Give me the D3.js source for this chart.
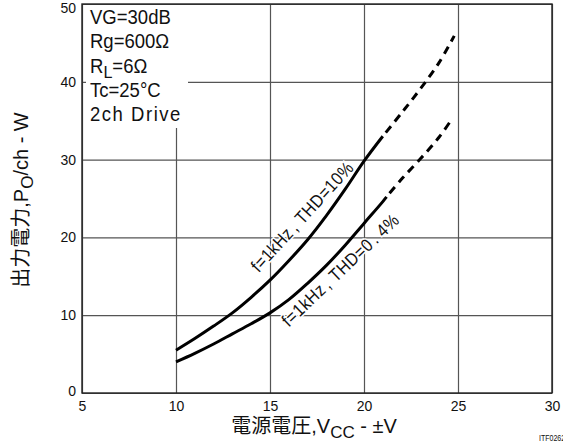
<!DOCTYPE html>
<html>
<head>
<meta charset="utf-8">
<script src="https://cdn.jsdelivr.net/npm/d3@7"></script>
<style>
  html, body { margin: 0; padding: 0; background: #fff; }
  svg { display: block; }
  .latin { font-family: "Liberation Sans", Arial, sans-serif; }
  .cjk { font-family: "Noto Sans CJK JP", "Noto Sans CJK SC", sans-serif; }
</style>
</head>
<body>
<svg id="chart" width="563" height="444"></svg>
<script>
// Axis ticks
const vccTicks = [5, 10, 15, 20, 25, 30];
const poTicks = [0, 10, 20, 30, 40, 50];

// Output power per channel (W) vs supply voltage (±V)
// THD = 10 %: measured part (solid) and extrapolated part (dashed)
const vccThd10 = [10, 11, 12, 13, 14, 15, 16, 17, 18, 19, 20, 21];
const poThd10 = [5.5, 7.0, 8.6, 10.3, 12.3, 14.5, 17.0, 19.7, 22.8, 26.2, 29.8, 33.0];
const vccThd10Ext = [21, 22, 23, 24, 24.8];
const poThd10Ext = [33.0, 36.0, 39.1, 42.5, 45.9];

// THD = 0.4 %
const vccThd04 = [10, 11, 12, 13, 14, 15, 16, 17, 18, 19, 20, 21, 21.2];
const poThd04 = [4.0, 5.1, 6.3, 7.6, 8.9, 10.3, 12.0, 14.1, 16.4, 19.0, 21.8, 24.6, 25.2];
const vccThd04Ext = [21.2, 22, 23, 24, 24.7];
const poThd04Ext = [25.2, 27.5, 30.1, 32.9, 35.3];

// Test conditions
const conditions = ["VG=30dB", "Rg=600Ω", "RL=6Ω", "Tc=25°C", "2ch Drive"];

const svg = d3.select("#chart");
const W = 563, H = 444;
const m = { left: 82, top: 4, right: 11, bottom: 51 };
const w = W - m.left - m.right, h = H - m.top - m.bottom;

const x = d3.scaleLinear().domain([5, 30]).range([m.left, m.left + w]);
const y = d3.scaleLinear().domain([0, 50]).range([m.top + h, m.top]);

const gridColor = "#555";

// Vertical grid + x tick labels
const gx = svg.append("g")
  .attr("transform", `translate(0,${m.top + h})`)
  .call(d3.axisBottom(x).tickValues(vccTicks).tickSizeInner(-h).tickSizeOuter(0).tickPadding(8));
gx.select(".domain").remove();
gx.selectAll(".tick line").attr("stroke", gridColor).attr("stroke-width", 1.2);
gx.selectAll(".tick text")
  .attr("class", "latin")
  .attr("font-size", 14).attr("fill", "#111");

// Horizontal grid + y tick labels
const gy = svg.append("g")
  .attr("transform", `translate(${m.left},0)`)
  .call(d3.axisLeft(y).tickValues(poTicks).tickSizeInner(-w).tickSizeOuter(0).tickPadding(6));
gy.select(".domain").remove();
gy.selectAll(".tick line").attr("stroke", gridColor).attr("stroke-width", 1.2);
gy.selectAll(".tick text")
  .attr("class", "latin")
  .attr("font-size", 14).attr("fill", "#111")
  .attr("dy", d => d === 50 ? "0.62em" : (d === 0 ? "0.15em" : "0.32em"));

// Conditions box (opaque, hides grid behind it)
svg.append("rect")
  .attr("x", m.left + 4).attr("y", m.top + 1)
  .attr("width", 102).attr("height", 123)
  .attr("fill", "#fff");

const cond = svg.append("g").attr("class", "latin")
  .attr("font-size", 19.5).attr("fill", "#111");
conditions.forEach((c, i) => {
  const t = cond.append("text")
    .attr("transform", `translate(${m.left + 8},${m.top + 20 + i * 24.3}) scale(0.95,1)`);
  if (c.startsWith("RL")) {
    t.append("tspan").text("R");
    t.append("tspan").attr("dy", 5).attr("font-size", 17).text("L");
    t.append("tspan").attr("dy", -5).text(c.slice(2));
  } else if (c === "2ch Drive") {
    t.attr("letter-spacing", 1.6).text(c);
  } else {
    t.text(c);
  }
});

// Plot frame
svg.append("rect")
  .attr("x", m.left).attr("y", m.top).attr("width", w).attr("height", h)
  .attr("fill", "none").attr("stroke", "#222").attr("stroke-width", 1.4);

// Curves
const line = d3.line().x(d => x(d[0])).y(d => y(d[1])).curve(d3.curveCatmullRom);
const series = [
  { vx: vccThd10, vy: poThd10, dash: null },
  { vx: vccThd10Ext, vy: poThd10Ext, dash: "8,6" },
  { vx: vccThd04, vy: poThd04, dash: null },
  { vx: vccThd04Ext, vy: poThd04Ext, dash: "8,6" }
];
series.forEach(s => {
  svg.append("path")
    .datum(d3.zip(s.vx, s.vy))
    .attr("d", line)
    .attr("fill", "none")
    .attr("stroke", "#000")
    .attr("stroke-width", 3)
    .attr("stroke-dasharray", s.dash)
    .attr("stroke-dashoffset", s.dash ? -5 : null);
});

// Curve labels along the curves
function curveLabel(at, angle, parts) {
  const t = svg.append("text")
    .attr("class", "latin")
    .attr("transform", `translate(${x(at[0])},${y(at[1])}) rotate(${angle}) scale(0.88,1)`)
    .attr("font-size", 18)
    .attr("letter-spacing", 0.6)
    .attr("fill", "#111")
    .attr("stroke", "#fff").attr("stroke-width", 3).attr("paint-order", "stroke");
  parts.forEach(p => t.append("tspan").attr("dx", p.dx || 0).text(p.s));
}
curveLabel([14.4, 15.4], -47.5, [{ s: "f=1kHz" }, { s: ", THD=10%", dx: 3 }]);
curveLabel([16.0, 8.4], -43.5, [
  { s: "f=1kHz" }, { s: ", THD=0", dx: 3 }, { s: ".", dx: 3 }, { s: "4%", dx: 5 }
]);

// X axis title
const xt = svg.append("text")
  .attr("x", 314).attr("y", 433)
  .attr("text-anchor", "middle")
  .attr("font-size", 20).attr("fill", "#111");
xt.append("tspan").attr("class", "cjk").text("電源電圧");
xt.append("tspan").attr("class", "latin").text(",V");
xt.append("tspan").attr("class", "latin").attr("dy", 5).attr("font-size", 17).text("CC");
xt.append("tspan").attr("class", "latin").attr("dy", -5).text("  -  ±V");

// Y axis title
const yt = svg.append("text")
  .attr("transform", "translate(28,200) rotate(-90)")
  .attr("text-anchor", "middle")
  .attr("font-size", 20).attr("fill", "#111");
yt.append("tspan").attr("class", "cjk").text("出力電力");
yt.append("tspan").attr("class", "latin").text(",P");
yt.append("tspan").attr("class", "latin").attr("dy", 5).attr("font-size", 17).text("O");
yt.append("tspan").attr("class", "latin").attr("dy", -5).text("/ch  -  W");

// Figure code
svg.append("text")
  .attr("class", "latin")
  .attr("transform", "translate(539,441) scale(0.78,1)")
  .attr("font-size", 9).attr("fill", "#111")
  .text("ITF02623");
</script>
</body>
</html>
